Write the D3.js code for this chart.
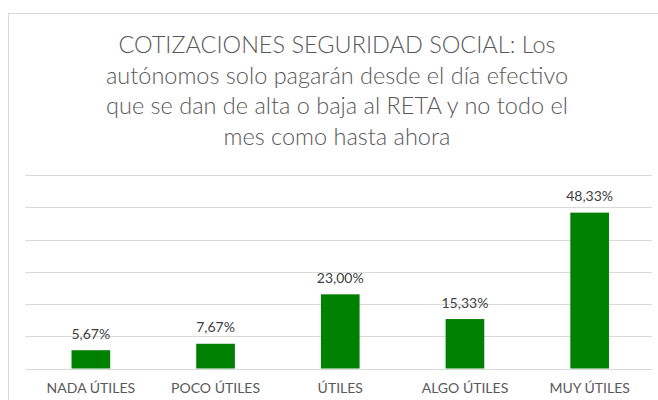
<!DOCTYPE html>
<html lang="es">
<head>
<meta charset="UTF-8">
<title>Cotizaciones Seguridad Social</title>
<script src="https://d3js.org/d3.v7.min.js"></script>
<style>
    body { margin: 0; background: #fff; }
    svg { display: block; font-family: "Lato", "Open Sans", sans-serif; }
    .grid line { stroke: #d9d9d9; stroke-width: 1; }
    .title { fill: #595959; font-size: 23.5px; font-weight: 300; }
    .cat { fill: #595959; font-size: 14px; }
    .val { fill: #404040; font-size: 14px; }
</style>
</head>
<body>
<div id="chart"></div>
<script>
    var categories = ["NADA ÚTILES", "POCO ÚTILES", "ÚTILES", "ALGO ÚTILES", "MUY ÚTILES"];
    var values = [5.67, 7.67, 23.00, 15.33, 48.33];
    var gridTicks = [0, 10, 20, 30, 40, 50, 60];
    var titleLines = [
        "COTIZACIONES SEGURIDAD SOCIAL: Los",
        "autónomos solo pagarán desde el día efectivo",
        "que se dan de alta o baja al RETA y no todo el",
        "mes como hasta ahora"
    ];

    var w = 658, h = 400;
    var plot = { left: 28.5, right: 652, top: 175, bottom: 368.5 };

    var svg = d3.select("#chart").append("svg")
        .attr("width", w)
        .attr("height", h);

    // chart frame (runs off the right and bottom edge)
    svg.append("rect")
        .attr("x", 8.5).attr("y", 13.5)
        .attr("width", 660).attr("height", 400)
        .attr("fill", "#fff")
        .attr("stroke", "#d9d9d9");

    svg.append("g").selectAll("text")
        .data(titleLines)
        .enter().append("text")
        .attr("class", "title")
        .attr("x", 337)
        .attr("y", (d, i) => 53 + i * 30.5)
        .attr("text-anchor", "middle")
        .text(d => d);

    var x = d3.scaleBand()
        .domain(categories)
        .range([plot.left, plot.right])
        .paddingInner(0.69)
        .paddingOuter(0.345);

    var y = d3.scaleLinear()
        .domain([0, 60])
        .range([plot.bottom, plot.top]);

    svg.append("g").attr("class", "grid")
        .selectAll("line")
        .data(gridTicks)
        .enter().append("line")
        .attr("x1", plot.left - 3)
        .attr("x2", plot.right)
        .attr("y1", d => Math.round(y(d)) + 0.5)
        .attr("y2", d => Math.round(y(d)) + 0.5);

    svg.append("g").selectAll("rect")
        .data(values)
        .enter().append("rect")
        .attr("x", (d, i) => x(categories[i]))
        .attr("width", x.bandwidth())
        .attr("y", d => y(d))
        .attr("height", d => y(0) - y(d))
        .attr("fill", "#008000");

    svg.append("g").selectAll("text")
        .data(values)
        .enter().append("text")
        .attr("class", "val")
        .attr("x", (d, i) => x(categories[i]) + x.bandwidth() / 2)
        .attr("y", d => y(d) - 11.5)
        .attr("text-anchor", "middle")
        .text(d => d.toFixed(2).replace(".", ",") + "%");

    var xAxis = d3.axisBottom(x).tickSize(0).tickPadding(0);
    var gx = svg.append("g")
        .attr("transform", `translate(0,${plot.bottom})`)
        .call(xAxis);
    gx.select(".domain").remove();
    gx.selectAll("text")
        .attr("class", "cat")
        .attr("fill", null)
        .attr("dy", null)
        .attr("y", 24)
        .style("font-family", null)
        .style("font-size", null);
    gx.attr("font-family", null).attr("font-size", null);
</script>
</body>
</html>
